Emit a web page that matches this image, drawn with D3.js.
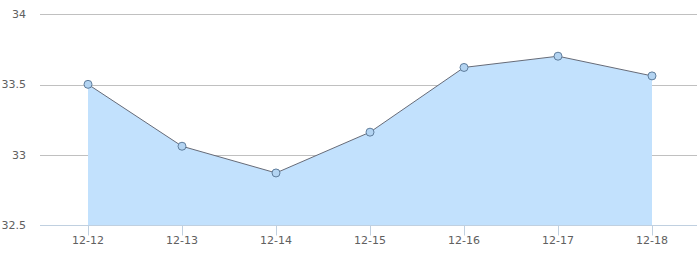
<!DOCTYPE html>
<html>
<head>
<meta charset="utf-8">
<script src="https://cdn.jsdelivr.net/npm/d3@7"></script>
<style>
  body { margin: 0; background: #fff; }
  svg { display: block; font-family: "DejaVu Sans", Verdana, sans-serif; }
</style>
</head>
<body>
<div id="chart"></div>
<script>
const categories = ["12-12", "12-13", "12-14", "12-15", "12-16", "12-17", "12-18"];
const values = [33.5, 33.06, 32.87, 33.16, 33.62, 33.7, 33.56];
const yTicks = [32.5, 33, 33.5, 34];

const width = 697, height = 253;
const margin = { top: 14, right: -2, bottom: 28, left: 41 };

const svg = d3.select("#chart").append("svg")
  .attr("width", width)
  .attr("height", height);

const x = d3.scaleBand()
  .domain(categories)
  .range([margin.left, width - margin.right])
  .padding(0);

const y = d3.scaleLinear()
  .domain([32.5, 34])
  .range([height - margin.bottom, margin.top]);

const cx = d => x(d) + x.bandwidth() / 2;
const py = d => Math.ceil(y(d)) + 0.5;

// grid lines
svg.append("g")
  .selectAll("line")
  .data(yTicks.filter(t => t !== 32.5))
  .join("line")
  .attr("x1", 40)
  .attr("x2", width)
  .attr("y1", d => py(d))
  .attr("y2", d => py(d))
  .attr("stroke", "#c0c0c0")
  .attr("stroke-width", 1);

// y labels
svg.append("g")
  .selectAll("text")
  .data(yTicks)
  .join("text")
  .attr("x", 26)
  .attr("y", d => y(d) + 4)
  .attr("text-anchor", "end")
  .attr("fill", "#606060")
  .attr("font-size", 11)
  .text(d => d);

const pts = categories.map((c, i) => [cx(c), y(values[i])]);

// area
const area = d3.area()
  .x(d => d[0])
  .y0(y(32.5))
  .y1(d => d[1]);

svg.append("path")
  .datum(pts)
  .attr("d", area)
  .attr("fill", "#c2e1fd");

// x axis line
svg.append("line")
  .attr("x1", 40)
  .attr("x2", width)
  .attr("y1", py(32.5))
  .attr("y2", py(32.5))
  .attr("stroke", "#c0d0e0");

// x ticks
svg.append("g")
  .selectAll("line")
  .data(categories)
  .join("line")
  .attr("x1", d => Math.round(cx(d)) + 0.5)
  .attr("x2", d => Math.round(cx(d)) + 0.5)
  .attr("y1", py(32.5))
  .attr("y2", py(32.5) + 10)
  .attr("stroke", "#c0d0e0");

// x labels
svg.append("g")
  .selectAll("text")
  .data(categories)
  .join("text")
  .attr("x", d => cx(d))
  .attr("y", 244)
  .attr("text-anchor", "middle")
  .attr("fill", "#606060")
  .attr("font-size", 11)
  .text(d => d);

// line
svg.append("path")
  .datum(pts)
  .attr("d", d3.line())
  .attr("fill", "none")
  .attr("stroke", "#666b78")
  .attr("stroke-width", 1);

// markers
svg.append("g")
  .selectAll("circle")
  .data(pts)
  .join("circle")
  .attr("cx", d => d[0])
  .attr("cy", d => d[1])
  .attr("r", 4)
  .attr("fill", "#b3d4f2")
  .attr("stroke", "#5f7d9c")
  .attr("stroke-width", 1);
</script>
</body>
</html>
